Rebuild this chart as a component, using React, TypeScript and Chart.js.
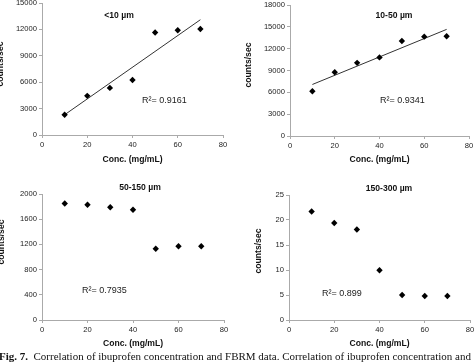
import React, { useEffect, useRef } from "react";
import { Chart, registerables } from "chart.js";

Chart.register(...registerables);

// ---- data ----
const concentrations = [10, 20, 30, 40, 50, 60, 70];
const countsUnder10 = [2300, 4450, 5350, 6250, 11650, 11900, 12050];
const counts10to50 = [6150, 8750, 10050, 10800, 13050, 13650, 13700];
const counts50to150 = [1850, 1830, 1790, 1750, 1130, 1170, 1170];
const counts150to300 = [21.7, 19.4, 18.1, 9.95, 5.0, 4.8, 4.8];

const trendX = [10, 70];
const trendUnder10 = [2300, 13100];
const trend10to50 = [7080, 14650];

const panelTitles = ["<10 µm", "10-50 µm", "50-150 µm", "150-300 µm"];
const rSquaredLabels = ["R²= 0.9161", "R²= 0.9341", "R²= 0.7935", "R²= 0.899"];
const yMaxes = [15000, 18000, 2000, 25];
const ySteps = [3000, 3000, 400, 5];
const xMin = 0;
const xMax = 80;
const xStep = 20;
const xAxisTitle = "Conc. (mg/mL)";
const yAxisTitle = "counts/sec";
const captionBold = "Fig. 7.";
const captionText =
  "Correlation of ibuprofen concentration and FBRM data. Correlation of ibuprofen concentration and FBRM";

const seriesList = [countsUnder10, counts10to50, counts50to150, counts150to300];
const trendList: (number[] | null)[] = [trendUnder10, trend10to50, null, null];

// ---- layout (page coords of the plot areas) ----
type Geo = {
  L: number; T: number; R: number; B: number;
  titleDx: number; titleDy: number;
  r2Dx: number; r2Dy: number;
  yTitleDx: number; yTitleDy: number;
  xTitleDy: number;
};
const geos: Geo[] = [
  { L: 42, T: 3, R: 223, B: 135, titleDx: 77, titleDy: 13, r2Dx: 100, r2Dy: 98, yTitleDx: -41, yTitleDy: 61, xTitleDy: 25 },
  { L: 290, T: 5, R: 469, B: 136, titleDx: 104, titleDy: 11, r2Dx: 90, r2Dy: 96, yTitleDx: -41, yTitleDy: 60, xTitleDy: 24 },
  { L: 42, T: 194, R: 224, B: 320, titleDx: 98, titleDy: -6, r2Dx: 40, r2Dy: 97, yTitleDx: -40, yTitleDy: 48, xTitleDy: 23.5 },
  { L: 289, T: 195, R: 470, B: 320, titleDx: 100, titleDy: -6, r2Dx: 33, r2Dy: 99, yTitleDx: -30, yTitleDy: 56, xTitleDy: 24 },
];
const YW = 50;
const XH = 34;
const PAD_T = 16;
const PAD_R = 12;

const SANS = '"Liberation Sans", Arial, sans-serif';

const textPlugin = {
  id: "panelText",
  afterDraw(chart: any, _args: any, opts: any) {
    const { ctx, chartArea: a } = chart;
    ctx.save();
    ctx.fillStyle = "#111";
    ctx.textAlign = "center";
    ctx.textBaseline = "middle";
    ctx.font = `bold 8.6px ${SANS}`;
    ctx.fillText(opts.title, a.left + opts.titleDx, a.top + opts.titleDy);
    ctx.fillText(xAxisTitle, (a.left + a.right) / 2, a.bottom + opts.xTitleDy);
    ctx.save();
    ctx.translate(a.left + opts.yTitleDx, a.top + opts.yTitleDy);
    ctx.rotate(-Math.PI / 2);
    ctx.fillText(yAxisTitle, 0, 0);
    ctx.restore();
    ctx.font = `9px ${SANS}`;
    ctx.textAlign = "left";
    ctx.fillStyle = "#222";
    ctx.fillText(opts.r2, a.left + opts.r2Dx, a.top + opts.r2Dy);
    ctx.restore();
  },
};

function Panel({ idx }: { idx: number }) {
  const ref = useRef<HTMLCanvasElement>(null);
  const g = geos[idx];
  const left = g.L - YW;
  const top = g.T - PAD_T;
  const width = g.R + PAD_R - left;
  const height = g.B + XH - top;

  useEffect(() => {
    if (!ref.current) return;
    const points = concentrations.map((x, i) => ({ x, y: seriesList[idx][i] }));
    const datasets: any[] = [
      {
        type: "scatter",
        data: points,
        pointStyle: "rectRot",
        pointRadius: 3.2,
        backgroundColor: "#000",
        borderColor: "#000",
        borderWidth: 0,
        order: 0,
      },
    ];
    const tr = trendList[idx];
    if (tr) {
      datasets.push({
        type: "line",
        data: trendX.map((x, i) => ({ x, y: tr[i] })),
        borderColor: "#333",
        borderWidth: 1,
        pointRadius: 0,
        fill: false,
        order: 1,
      });
    }
    const tickFont = { family: SANS, size: 7.6 };
    const plainLabel = (v: any) => String(v);
    const chart = new Chart(ref.current, {
      type: "scatter",
      data: { datasets },
      plugins: [textPlugin as any],
      options: {
        animation: false,
        responsive: false,
        devicePixelRatio: 1,
        layout: { padding: { left: 0, top: PAD_T, right: PAD_R, bottom: 0 } },
        plugins: {
          legend: { display: false },
          tooltip: { enabled: false },
          panelText: {
            title: panelTitles[idx],
            r2: rSquaredLabels[idx],
            titleDx: g.titleDx, titleDy: g.titleDy,
            r2Dx: g.r2Dx, r2Dy: g.r2Dy,
            yTitleDx: g.yTitleDx, yTitleDy: g.yTitleDy,
            xTitleDy: g.xTitleDy,
          },
        } as any,
        scales: {
          x: {
            type: "linear",
            min: xMin,
            max: xMax,
            ticks: { stepSize: xStep, font: tickFont, color: "#222", padding: 2, maxRotation: 0, callback: plainLabel },
            grid: { display: true, drawOnChartArea: false, drawTicks: true, tickLength: 3, color: "#aaa" },
            border: { display: true, color: "#aaa", width: 1 },
            afterFit: (s: any) => { s.height = XH; },
          },
          y: {
            type: "linear",
            min: 0,
            max: yMaxes[idx],
            ticks: { stepSize: ySteps[idx], font: tickFont, color: "#222", padding: 2, callback: plainLabel },
            grid: { display: true, drawOnChartArea: false, drawTicks: true, tickLength: 3, color: "#aaa" },
            border: { display: true, color: "#aaa", width: 1 },
            afterFit: (s: any) => { s.width = YW; },
          },
        },
      } as any,
    });
    return () => chart.destroy();
  }, [idx]);

  return (
    <canvas
      ref={ref}
      width={width}
      height={height}
      style={{ position: "absolute", left, top, width, height }}
    />
  );
}

export default function App() {
  return (
    <div
      style={{
        position: "fixed",
        left: 0,
        top: 0,
        width: 474,
        height: 364,
        overflow: "hidden",
        background: "#fff",
      }}
    >
      {[0, 1, 2, 3].map((i) => (
        <Panel key={i} idx={i} />
      ))}
      <div
        style={{
          position: "absolute",
          left: -1,
          top: 350,
          whiteSpace: "nowrap",
          fontFamily: '"Liberation Serif", "Times New Roman", serif',
          fontSize: 11,
          lineHeight: "13px",
          color: "#111",
        }}
      >
        <b>{captionBold}</b>
        {"\u00a0 "}
        {captionText}
      </div>
    </div>
  );
}
